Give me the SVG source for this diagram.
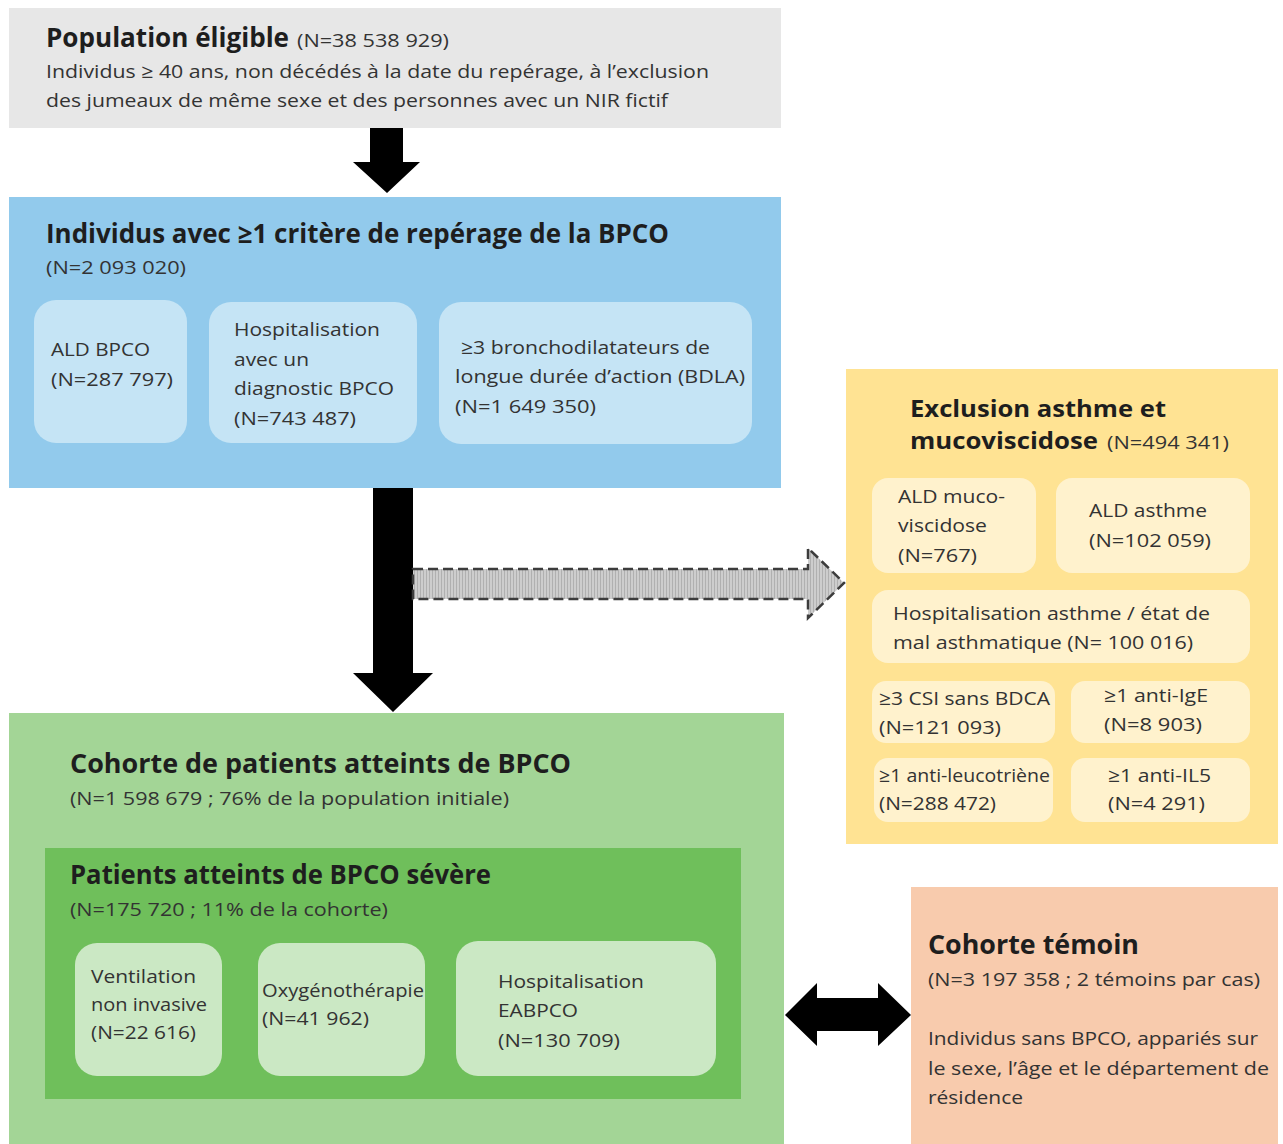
<svg xmlns="http://www.w3.org/2000/svg" width="1283" height="1144" viewBox="0 0 1283 1144">
<defs>
<style>
text{font-family:"Open Sans","Liberation Sans",sans-serif;fill:#333333;}
.t{font-weight:bold;font-size:26px;fill:#1e1e1e;}
.t2{font-weight:bold;font-size:24px;fill:#1e1e1e;}
.n{font-size:19px;}
.s{font-size:19px;}
</style>
<pattern id="stripes" width="3" height="4" patternUnits="userSpaceOnUse">
<rect width="3" height="4" fill="#cdcdcd"/>
<rect width="1" height="4" fill="#b0b0b0"/>
</pattern>
</defs>
<rect width="1283" height="1144" fill="#ffffff"/>

<g id="connectors">
<path d="M370 128 H403 V162 H420 L387 193 L353 162 H370 Z" fill="#000"/>
<path d="M373 488 H413 V673 H433 L393 712 L353 673 H373 Z" fill="#000"/>
<path d="M413 569 H808 V548 L844 583 L808 618 V599 H413 Z" fill="url(#stripes)" stroke="#3c3c3c" stroke-width="2.5" stroke-dasharray="10 5"/>
<path d="M785 1015 L817 983 V998 H878 V983 L911 1015 L878 1046 V1031 H817 V1046 Z" fill="#000"/>
</g>

<g id="population">
<rect x="9" y="8" width="772" height="120" fill="#e7e7e7"/>
<text class="t" x="46" y="47" textLength="243" lengthAdjust="spacingAndGlyphs">Population éligible</text>
<text class="n" x="297" y="47" textLength="152" lengthAdjust="spacingAndGlyphs">(N=38 538 929)</text>
<text class="s" x="46" y="78" textLength="663" lengthAdjust="spacingAndGlyphs">Individus ≥ 40 ans, non décédés à la date du repérage, à l’exclusion</text>
<text class="s" x="46" y="107" textLength="622" lengthAdjust="spacingAndGlyphs">des jumeaux de même sexe et des personnes avec un NIR fictif</text>
</g>

<g id="reperage">
<rect x="9" y="197" width="772" height="291" fill="#92caec"/>
<text class="t" x="46" y="243" textLength="623" lengthAdjust="spacingAndGlyphs">Individus avec ≥1 critère de repérage de la BPCO</text>
<text class="n" x="46" y="274" textLength="140" lengthAdjust="spacingAndGlyphs">(N=2 093 020)</text>
<g id="ald-bpco">
<rect x="34" y="300" width="153" height="143" rx="22" fill="#c5e4f5"/>
<text class="s" x="51" y="356" textLength="99" lengthAdjust="spacingAndGlyphs">ALD BPCO</text>
<text class="s" x="51" y="386" textLength="122" lengthAdjust="spacingAndGlyphs">(N=287 797)</text>
</g>
<g id="hosp-bpco">
<rect x="209" y="302" width="208" height="141" rx="22" fill="#c5e4f5"/>
<text class="s" x="234" y="336" textLength="146" lengthAdjust="spacingAndGlyphs">Hospitalisation</text>
<text class="s" x="234" y="366" textLength="75" lengthAdjust="spacingAndGlyphs">avec un</text>
<text class="s" x="234" y="395" textLength="160" lengthAdjust="spacingAndGlyphs">diagnostic BPCO</text>
<text class="s" x="234" y="425" textLength="122" lengthAdjust="spacingAndGlyphs">(N=743 487)</text>
</g>
<g id="bdla">
<rect x="439" y="302" width="313" height="142" rx="22" fill="#c5e4f5"/>
<text class="s" x="461" y="354" textLength="249" lengthAdjust="spacingAndGlyphs">≥3 bronchodilatateurs de</text>
<text class="s" x="455" y="383" textLength="290" lengthAdjust="spacingAndGlyphs">longue durée d’action (BDLA)</text>
<text class="s" x="455" y="413" textLength="141" lengthAdjust="spacingAndGlyphs">(N=1 649 350)</text>
</g>
</g>

<g id="exclusion">
<rect x="846" y="369" width="432" height="475" fill="#ffe393"/>
<text class="t2" x="910" y="417" textLength="256" lengthAdjust="spacingAndGlyphs">Exclusion asthme et</text>
<text class="t2" x="910" y="449" textLength="188" lengthAdjust="spacingAndGlyphs">mucoviscidose</text>
<text class="n" x="1107" y="449" textLength="122" lengthAdjust="spacingAndGlyphs">(N=494 341)</text>
<g id="ald-muco">
<rect x="872" y="478" width="164" height="95" rx="16" fill="#fff2cd"/>
<text class="s" x="898" y="503" textLength="107" lengthAdjust="spacingAndGlyphs">ALD muco-</text>
<text class="s" x="898" y="532" textLength="89" lengthAdjust="spacingAndGlyphs">viscidose</text>
<text class="s" x="898" y="562" textLength="79" lengthAdjust="spacingAndGlyphs">(N=767)</text>
</g>
<g id="ald-asthme">
<rect x="1056" y="478" width="194" height="95" rx="16" fill="#fff2cd"/>
<text class="s" x="1089" y="517" textLength="118" lengthAdjust="spacingAndGlyphs">ALD asthme</text>
<text class="s" x="1089" y="547" textLength="122" lengthAdjust="spacingAndGlyphs">(N=102 059)</text>
</g>
<g id="hosp-asthme">
<rect x="872" y="590" width="378" height="73" rx="16" fill="#fff2cd"/>
<text class="s" x="893" y="620" textLength="317" lengthAdjust="spacingAndGlyphs">Hospitalisation asthme / état de</text>
<text class="s" x="893" y="649" textLength="300" lengthAdjust="spacingAndGlyphs">mal asthmatique (N= 100 016)</text>
</g>
<g id="csi">
<rect x="872" y="681" width="183" height="62" rx="14" fill="#fff2cd"/>
<text class="s" x="879" y="705" textLength="171" lengthAdjust="spacingAndGlyphs">≥3 CSI sans BDCA</text>
<text class="s" x="879" y="734" textLength="122" lengthAdjust="spacingAndGlyphs">(N=121 093)</text>
</g>
<g id="anti-ige">
<rect x="1071" y="681" width="179" height="62" rx="14" fill="#fff2cd"/>
<text class="s" x="1104" y="702" textLength="104" lengthAdjust="spacingAndGlyphs">≥1 anti-IgE</text>
<text class="s" x="1104" y="731" textLength="98" lengthAdjust="spacingAndGlyphs">(N=8 903)</text>
</g>
<g id="anti-leuco">
<rect x="874" y="758" width="179" height="64" rx="14" fill="#fff2cd"/>
<text class="s" x="879" y="782" textLength="171" lengthAdjust="spacingAndGlyphs">≥1 anti-leucotriène</text>
<text class="s" x="879" y="810" textLength="117" lengthAdjust="spacingAndGlyphs">(N=288 472)</text>
</g>
<g id="anti-il5">
<rect x="1071" y="758" width="179" height="64" rx="14" fill="#fff2cd"/>
<text class="s" x="1108" y="782" textLength="103" lengthAdjust="spacingAndGlyphs">≥1 anti-IL5</text>
<text class="s" x="1108" y="810" textLength="97" lengthAdjust="spacingAndGlyphs">(N=4 291)</text>
</g>
</g>

<g id="cohorte">
<rect x="9" y="713" width="775" height="431" fill="#a3d596"/>
<text class="t" x="70" y="773" textLength="501" lengthAdjust="spacingAndGlyphs">Cohorte de patients atteints de BPCO</text>
<text class="n" x="70" y="805" textLength="439" lengthAdjust="spacingAndGlyphs">(N=1 598 679 ; 76% de la population initiale)</text>
<g id="severe">
<rect x="45" y="848" width="696" height="251" fill="#6fbf5b"/>
<text class="t" x="70" y="884" textLength="421" lengthAdjust="spacingAndGlyphs">Patients atteints de BPCO sévère</text>
<text class="n" x="70" y="916" textLength="318" lengthAdjust="spacingAndGlyphs">(N=175 720 ; 11% de la cohorte)</text>
<g id="vni">
<rect x="75" y="943" width="147" height="133" rx="22" fill="#cbe8c4"/>
<text class="s" x="91" y="983" textLength="105" lengthAdjust="spacingAndGlyphs">Ventilation</text>
<text class="s" x="91" y="1011" textLength="116" lengthAdjust="spacingAndGlyphs">non invasive</text>
<text class="s" x="91" y="1039" textLength="105" lengthAdjust="spacingAndGlyphs">(N=22 616)</text>
</g>
<g id="oxygeno">
<rect x="258" y="943" width="167" height="133" rx="22" fill="#cbe8c4"/>
<text class="s" x="262" y="997" textLength="162" lengthAdjust="spacingAndGlyphs">Oxygénothérapie</text>
<text class="s" x="262" y="1025" textLength="107" lengthAdjust="spacingAndGlyphs">(N=41 962)</text>
</g>
<g id="eabpco">
<rect x="456" y="941" width="260" height="135" rx="22" fill="#cbe8c4"/>
<text class="s" x="498" y="988" textLength="146" lengthAdjust="spacingAndGlyphs">Hospitalisation</text>
<text class="s" x="498" y="1017" textLength="80" lengthAdjust="spacingAndGlyphs">EABPCO</text>
<text class="s" x="498" y="1047" textLength="122" lengthAdjust="spacingAndGlyphs">(N=130 709)</text>
</g>
</g>
</g>

<g id="temoin">
<rect x="911" y="887" width="367" height="257" fill="#f8cbad"/>
<text class="t" x="928" y="954" textLength="211" lengthAdjust="spacingAndGlyphs">Cohorte témoin</text>
<text class="s" x="928" y="986" textLength="332" lengthAdjust="spacingAndGlyphs">(N=3 197 358 ; 2 témoins par cas)</text>
<text class="s" x="928" y="1045" textLength="330" lengthAdjust="spacingAndGlyphs">Individus sans BPCO, appariés sur</text>
<text class="s" x="928" y="1075" textLength="341" lengthAdjust="spacingAndGlyphs">le sexe, l’âge et le département de</text>
<text class="s" x="928" y="1104" textLength="95" lengthAdjust="spacingAndGlyphs">résidence</text>
</g>
</svg>
